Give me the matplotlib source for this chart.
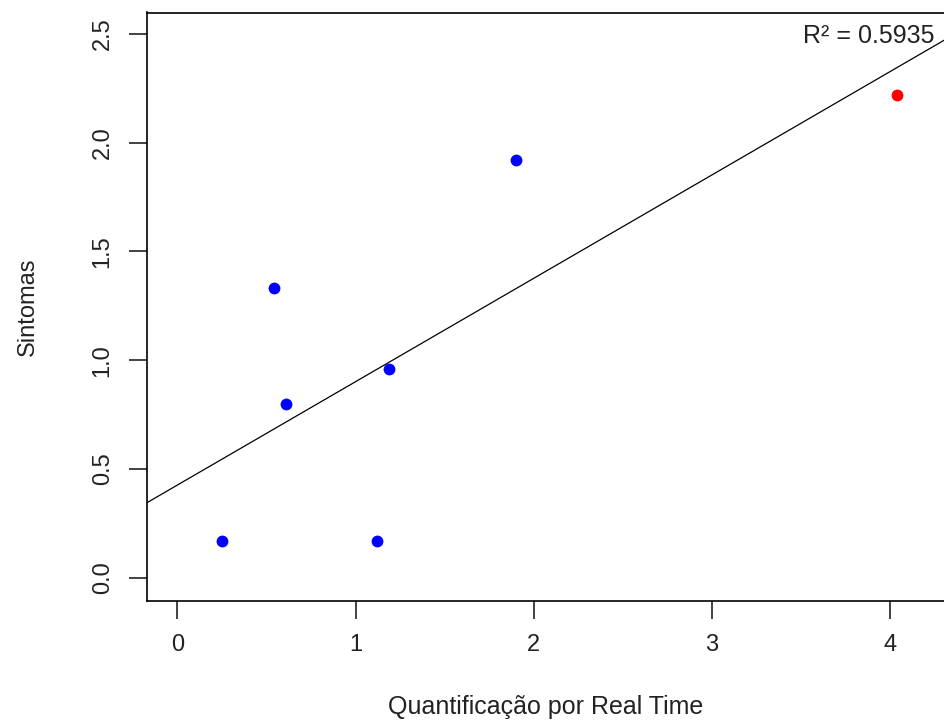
import numpy as np
import matplotlib
matplotlib.use("Agg")
import matplotlib.pyplot as plt

plt.rcParams["font.family"] = ["Liberation Sans", "DejaVu Sans"]

# values
quant = [0.25, 1.12, 0.54, 0.61, 1.19, 1.90]
sintomas = [0.17, 0.17, 1.33, 0.80, 0.96, 1.92]
outlier_x = [4.04]
outlier_y = [2.22]
x_ticks = [0, 1, 2, 3, 4]
y_ticks = [0.0, 0.5, 1.0, 1.5, 2.0, 2.5]

# linear fit over all points (the line in the reference is an abline)
all_x = np.array(quant + outlier_x)
all_y = np.array(sintomas + outlier_y)
slope, intercept = np.polyfit(all_x, all_y, 1)

fig = plt.figure(figsize=(9.44, 7.2), dpi=100)
ax = fig.add_axes([147 / 944, 1 - 601 / 720, 1 - 147 / 944, (601 - 12.5) / 720])

ax.axline((0, intercept), slope=slope, color="black", lw=0.9)
ax.plot(quant, sintomas, "o", color="#0000ff", ms=8.5, mec="none")
ax.plot(outlier_x, outlier_y, "o", color="#ff0000", ms=8.5, mec="none")

ax.text(4.25, 2.49, "R\u00b2 = 0.5935", ha="right", va="center", fontsize=18,
        color="#222222")

ax.set_xlim(-0.17, 4.302)
ax.set_ylim(-0.106, 2.598)
ax.set_xticks(x_ticks)
ax.set_xticklabels([str(t) for t in x_ticks])
ax.set_yticks(y_ticks)
ax.set_yticklabels([f"{t:.1f}" for t in y_ticks], rotation=90, va="center")

ax.tick_params(axis="both", length=13, width=1.2, labelsize=17, colors="#222222")
ax.tick_params(axis="x", pad=11)
ax.tick_params(axis="y", pad=11)
for side in ["left", "bottom", "top"]:
    ax.spines[side].set_linewidth(1.2)
ax.spines["right"].set_visible(False)

ax.set_xlabel("Quantificação por Real Time", fontsize=18, labelpad=28,
              color="#222222")
ax.set_ylabel("Sintomas", fontsize=17, labelpad=38, color="#222222")

fig.savefig("out.png", dpi=100)
